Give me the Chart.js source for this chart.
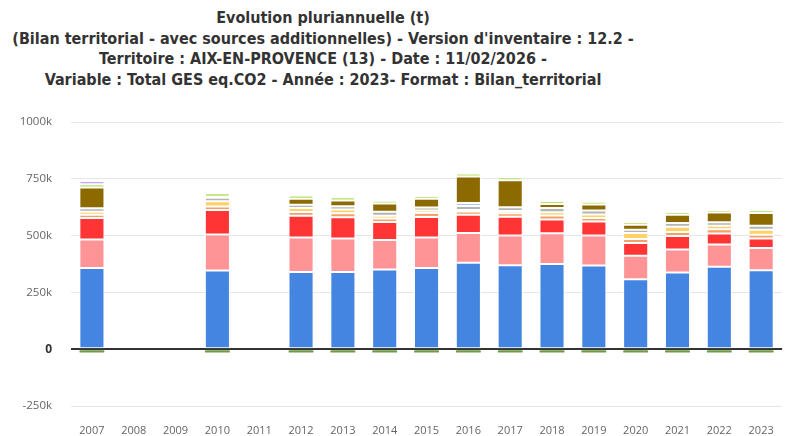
<!DOCTYPE html>
<html>
<head>
<meta charset="utf-8">
<script src="https://cdn.jsdelivr.net/npm/chart.js@4.4.1/dist/chart.umd.min.js"></script>
<style>
  html, body { margin: 0; padding: 0; background: #fff; }
  #wrap { position: relative; width: 792px; height: 436px; }
  #title {
    position: absolute; left: 0; top: 8px; width: 646px;
    text-align: center; color: #333; white-space: nowrap;
    font: bold 16px/20.5px "DejaVu Sans Condensed", "Liberation Sans Narrow", sans-serif;
  }
  canvas { position: absolute; left: 0; top: 0; }
</style>
</head>
<body>
<div id="wrap">
  <div id="title">
    Evolution pluriannuelle (t)<br>
    (Bilan territorial - avec sources additionnelles) - Version d'inventaire : 12.2 -<br>
    Territoire : AIX-EN-PROVENCE (13) - Date : 11/02/2026 -<br>
    Variable : Total GES eq.CO2 - Année : 2023- Format : Bilan_territorial
  </div>
  <canvas id="ghgChart" width="792" height="436"></canvas>
</div>
<script>
// years (2008, 2009, 2011 have no inventory)
const years = ['2007', '2008', '2009', '2010', '2011', '2012', '2013', '2014', '2015',
               '2016', '2017', '2018', '2019', '2020', '2021', '2022', '2023'];

// values in t eq.CO2
const transportRoutier = [357000, null, null, 346000, null, 340000, 340000, 351000, 357000, 381000, 369000, 375000, 368000, 308000, 338000, 363000, 347000];
const residentiel      = [126000, null, null, 159000, null, 152000, 147000, 130000, 135000, 130000, 131000, 135000, 132000, 103000, 101000,  98000,  98000];
const tertiaire        = [ 94000, null, null, 108000, null,  95000,  94000,  79000,  90000,  81000,  83000,  61000,  62000,  56000,  59000,  48000,  42000];
const agriculture      = [ 15000, null, null,  15000, null,  17000,  17000,  15000,  18000,  14000,  15000,  17000,  16000,  18000,  18000,  19000,  17000];
const dechets          = [ 13000, null, null,  23000, null,  18000,  17000,  12000,  10000,   7000,  10000,  15000,  15000,  26000,  23000,  15000,  22000];
const autresTransports = [ 15000, null, null,  16000, null,  14000,  14000,  18000,  14000,  17000,  17000,  18000,  18000,  15000,  16000,  16000,  17000];
const brancheEnergie   = [     0, null, null,   4000, null,      0,      0,      0,      0,  13000,      0,      0,      0,      0,      0,      0,      0];
const industrie        = [ 92000, null, null,      0, null,  26000,  26000,  36000,  38000, 117000, 119000,  18000,  26000,  22000,  37000,  43000,  57000];
const sourcesAdd       = [ 14000, null, null,  15000, null,  14000,  14000,  12000,  12000,  13000,  13000,  13000,  12000,  12000,  12000,  11000,  12000];
const nonInclus        = [ 14000, null, null,      0, null,      0,      0,      0,      0,      0,      0,      0,      0,      0,      0,      0,      0];
const puits            = [-15000, null, null, -15000, null, -15000, -15000, -15000, -15000, -15000, -15000, -15000, -15000, -15000, -15000, -15000, -15000];

const yTicks = { min: -250000, max: 1000000, step: 250000 };

const bar = (label, data, color, border = 1) => ({
  label, data, backgroundColor: color,
  borderColor: '#ffffff', borderWidth: border, borderSkipped: false, borderRadius: 3,
  barPercentage: 0.6, categoryPercentage: 1
});

const ctx = document.getElementById('ghgChart').getContext('2d');
new Chart(ctx, {
  type: 'bar',
  data: {
    labels: years,
    datasets: [
      bar('Puits', puits, '#6f9a47', 0),
      bar('Transport routier', transportRoutier, '#4485e2'),
      bar('Résidentiel', residentiel, '#ff9497'),
      bar('Tertiaire', tertiaire, '#ff3535'),
      bar('Agriculture', agriculture, '#f5a06a'),
      bar('Déchets', dechets, '#ffd166'),
      bar('Autres transports', autresTransports, '#b4b4b4'),
      bar('Branche énergie', brancheEnergie, '#a8c6fa'),
      bar('Industrie', industrie, '#8c6a00'),
      bar('Sources additionnelles', sourcesAdd, '#b6e063'),
      bar('Emetteurs non inclus', nonInclus, '#c9a3f3')
    ]
  },
  options: {
    responsive: false, animation: false,
    layout: { padding: { top: 122, right: 9, left: 0, bottom: 0 } },
    plugins: { legend: { display: false }, title: { display: false },
               tooltip: { mode: 'index', intersect: false } },
    scales: {
      x: {
        stacked: true,
        grid: { display: false, drawTicks: false },
        border: { display: false },
        ticks: { color: '#666', padding: 18, font: { family: 'Open Sans', size: 11 } },
        afterFit: (axis) => { axis.height = 30; }
      },
      y: {
        stacked: true,
        min: yTicks.min, max: yTicks.max,
        border: { display: false },
        grid: {
          drawTicks: false,
          color: c => c.tick && c.tick.value === 0 ? '#333333' : '#e6e6e6',
          lineWidth: c => c.tick && c.tick.value === 0 ? 2 : 1
        },
        ticks: {
          stepSize: yTicks.step, padding: 19,
          color: c => c.tick.value === 0 ? '#333' : '#666',
          font: c => ({ family: 'Open Sans', size: c.tick && c.tick.value === 0 ? 12 : 11.5,
                        weight: c.tick && c.tick.value === 0 ? 'bold' : 'normal' }),
          callback: v => v === 0 ? '0' : `${v / 1000}k`
        },
        afterFit: (axis) => { axis.width = 71; }
      }
    }
  }
});
</script>
</body>
</html>
